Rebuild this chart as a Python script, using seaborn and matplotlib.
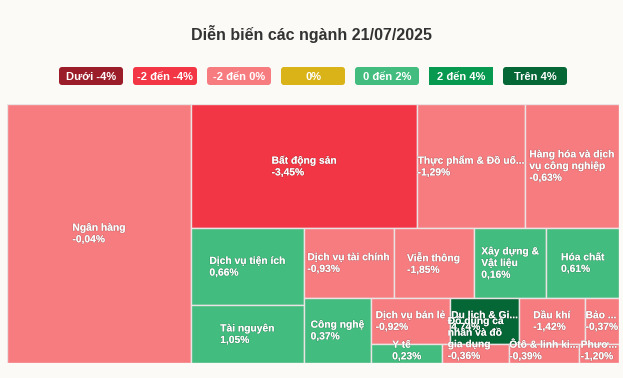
import matplotlib
matplotlib.use("Agg")
import matplotlib.pyplot as plt
import matplotlib.patheffects as pe
from matplotlib.patches import FancyBboxPatch
import seaborn as sns

# Sector data (weights, % change from labels)
sectors = ["Ngân hàng\n", "Bất động sản\n", "Thực phẩm & Đồ uố...\n",
           "Hàng hóa và dịch\nvụ công nghiệp\n", "Dịch vụ tiện ích\n", "Tài nguyên\n",
           "Dịch vụ tài chính\n", "Viễn thông\n", "Xây dựng &\nVật liệu\n", "Hóa chất\n",
           "Công nghệ\n", "Dịch vụ bán lẻ\n", "Du lịch & Gi...\n", "Dầu khí\n", "Bảo ...\n",
           "Y tế\n", "Đồ dùng cá\nnhân và đồ\ngia dụng\n", "Ôtô & linh ki...\n", "Phươ...\n"]
weights = [30.1, 17.7, 8.45, 7.35, 5.5, 4.1, 3.95, 3.55, 3.2, 3.2,
           2.75, 2.3, 2.0, 1.9, 1.0, 0.85, 0.80, 0.83, 0.48]
changes = [-0.04, -3.45, -1.29, -0.63, 0.66, 1.05, -0.93, -1.85, 0.16, 0.61,
           0.37, -0.92, 4.74, -1.42, -0.37, 0.23, -0.36, -0.39, -1.20]

legend_labels = ["Dưới -4%", "-2 đến -4%", "-2 đến 0%", "0%", "0 đến 2%", "2 đến 4%", "Trên 4%"]
legend_colors = ["#9b1d2a", "#f23645", "#f77c80", "#d9b317", "#42bd7f", "#089950", "#056636"]

sns.set_theme(style="white")
plt.rcParams["font.family"] = ["Liberation Sans", "DejaVu Sans"]

BG = "#fbfaf7"


def color_for(c):
    if c <= -4:
        return legend_colors[0]
    if c <= -2:
        return legend_colors[1]
    if c < 0:
        return legend_colors[2]
    if c == 0:
        return legend_colors[3]
    if c <= 2:
        return legend_colors[4]
    if c <= 4:
        return legend_colors[5]
    return legend_colors[6]


def treemap(values, width, height):
    # greedy squarified layout with alternating direction
    total = sum(values)
    areas = [v / total * width * height for v in values]
    rects = []
    rect = [0.0, 0.0, width, height]

    def ratio(a, b):
        return max(a / b, b / a)

    def flush(group, direction):
        x, y, w, h = rect
        s = sum(group)
        if direction == 0:
            cw = s / h
            yy = y
            for a in group:
                rects.append((x, yy, cw, a / cw))
                yy += a / cw
            rect[0] += cw
            rect[2] -= cw
        else:
            rh = s / w
            xx = x
            for a in group:
                rects.append((xx, y, a / rh, rh))
                xx += a / rh
            rect[1] += rh
            rect[3] -= rh

    direction = 0
    group = []
    for a in areas:
        if group:
            prev = group[-1]
            s = sum(group)
            fixed = rect[3] if direction == 0 else rect[2]
            old = s / fixed
            new = (s + a) / fixed
            if ratio(new, prev / new) > ratio(old, prev / old):
                flush(group, direction)
                direction = 1 - direction
                group = [a]
                continue
        group.append(a)
    if group:
        flush(group, direction)
    return rects


W, H = 612, 259
fig = plt.figure(figsize=(6.23, 3.78), dpi=100)
fig.patch.set_facecolor(BG)

ax = fig.add_axes([7 / 623, 15 / 378, W / 623, H / 378])
ax.set_xlim(0, W)
ax.set_ylim(H, 0)
ax.axis("off")

rects = treemap(weights, W, H)
line_h = 12.5
for (x, y, w, h), name, chg in zip(rects, sectors, changes):
    ax.bar(x, h, width=w, bottom=y, align="edge", color=color_for(chg),
           edgecolor="#ebe3e3", linewidth=1.0, zorder=1)
for (x, y, w, h), name, chg in zip(rects, sectors, changes):
    label = name + f"{chg:.2f}%".replace(".", ",")
    n = label.count("\n") + 1
    cy = y + h / 2
    half = n * line_h / 2
    cy = min(max(cy, half), H - half)
    ax.text(x + w / 2, cy, label, ha="center", va="center", multialignment="left",
            fontsize=7.4, fontweight="bold", color="white", linespacing=1.2, zorder=3,
            path_effects=[pe.withStroke(linewidth=0.8, foreground=(0, 0, 0, 0.18))])

# title
fig.text(0.5, 1 - 34 / 378, "Diễn biến các ngành 21/07/2025", ha="center", va="center",
         fontsize=11.5, fontweight="bold", color="#333333")

# legend badges
lax = fig.add_axes([0, 0, 1, 1], zorder=5)
lax.set_xlim(0, 623)
lax.set_ylim(378, 0)
lax.axis("off")
bx0, bw, bh, step, by = 59, 64, 18, 74, 67
for i, (lab, col) in enumerate(zip(legend_labels, legend_colors)):
    x0 = bx0 + i * step
    rad = 0.1 if i == 5 else 3
    lax.add_patch(FancyBboxPatch((x0 + rad, by + rad), bw - 2 * rad, bh - 2 * rad,
                                 boxstyle=f"round,pad={rad}", facecolor=col, edgecolor="none"))
    lax.text(x0 + bw / 2, by + bh / 2 + 0.5, lab, ha="center", va="center",
             fontsize=8, fontweight="bold", color="white")

fig.savefig("out.png", dpi=100, facecolor=BG)
